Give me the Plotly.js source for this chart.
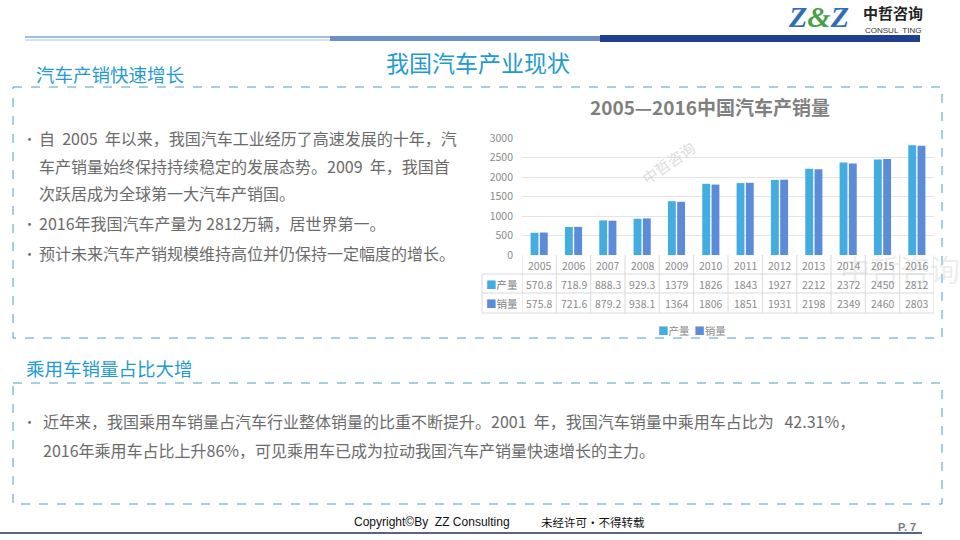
<!DOCTYPE html>
<html>
<head>
<meta charset="utf-8">
<script src="https://cdn.plot.ly/plotly-3.0.1.min.js"></script>
<style>html,body{margin:0;padding:0;background:#fff;}#chart{width:960px;height:540px;}</style>
</head>
<body>
<div id="chart"></div>
<script>
// ---- data ----
const years = ['2005','2006','2007','2008','2009','2010','2011','2012','2013','2014','2015','2016'];
const production = [570.8, 718.9, 888.3, 929.3, 1379, 1826, 1843, 1927, 2212, 2372, 2450, 2812];
const sales = [575.8, 721.6, 879.2, 938.1, 1364, 1806, 1851, 1931, 2198, 2349, 2460, 2803];
const productionLabels = ['570.8','718.9','888.3','929.3','1379','1826','1843','1927','2212','2372','2450','2812'];
const salesLabels = ['575.8','721.6','879.2','938.1','1364','1806','1851','1931','2198','2349','2460','2803'];
const seriesNames = ['产量', '销量'];
const chartTitle = '2005—2016中国汽车产销量';
const pageTitle = '我国汽车产业现状';
const section1Title = '汽车产销快速增长';
const section2Title = '乘用车销量占比大增';
const bullets1 = [
  ['自  2005  年以来，我国汽车工业经历了高速发展的十年，汽', true],
  ['车产销量始终保持持续稳定的发展态势。2009  年，我国首', false],
  ['次跃居成为全球第一大汽车产销国。', false],
  ['2016年我国汽车产量为 2812万辆，居世界第一。', true],
  ['预计未来汽车产销规模维持高位并仍保持一定幅度的增长。', true]
];
const bullets2 = [
  ['近年来，我国乘用车销量占汽车行业整体销量的比重不断提升。2001  年，我国汽车销量中乘用车占比为   42.31%，', true],
  ['2016年乘用车占比上升86%，可见乘用车已成为拉动我国汽车产销量快速增长的主力。', false]
];

// ---- helpers ----
const W = 960, H = 540;
const px = x => x / W;
const py = y => 1 - y / H;
const CJK = '"Noto Sans CJK SC", "Noto Sans", sans-serif';
const cLight = '#43ade2', cDark = '#5b8bd9';
const gridC = '#d9d9d9';
const textGray = '#6b6b6b';

const traces = [
  {type:'bar', name: seriesNames[0], x: years, y: production, marker:{color:cLight}, hoverinfo:'x+y', showlegend:false},
  {type:'bar', name: seriesNames[1], x: years, y: sales, marker:{color:cDark}, hoverinfo:'x+y', showlegend:false}
];

const annotations = [];
const shapes = [];
function txt(x, y, text, size, color, opts) {
  annotations.push(Object.assign({xref:'paper', yref:'paper', x: px(x), y: py(y), text: text,
    showarrow:false, xanchor:'left', yanchor:'middle',
    font:{family: CJK, size: size, color: color}}, opts || {}));
}

// header logo
txt(818, 17, '<b><i><span style="color:#2f6db5">Z</span><span style="color:#4aa047">&amp;</span><span style="color:#2f6db5">Z</span></i></b>', 30, '#2f6db5', {xanchor:'center', font:{family:'"Liberation Serif", serif', size:30, color:'#2f6db5'}});
txt(893, 12, '<b>中哲咨询</b>', 15, '#222', {xanchor:'center'});
txt(893, 30, 'CONSUL  TING', 8, '#333', {xanchor:'center', font:{family:'"Liberation Sans", Arial, sans-serif', size:8, color:'#333'}});
// header lines
shapes.push({type:'line', xref:'paper', yref:'paper', x0:px(25), x1:px(920), y0:py(37), y1:py(37), line:{color:'#7fa7d3', width:1.5}});
shapes.push({type:'line', xref:'paper', yref:'paper', x0:px(25), x1:px(330), y0:py(40), y1:py(40), line:{color:'#a9c4e4', width:1}});
shapes.push({type:'rect', xref:'paper', yref:'paper', x0:px(330), x1:px(600), y0:py(41), y1:py(36), line:{width:0}, fillcolor:'#6d8fc4'});
shapes.push({type:'rect', xref:'paper', yref:'paper', x0:px(600), x1:px(920), y0:py(42), y1:py(35), line:{width:0}, fillcolor:'#1f3f8f'});

// page title & section titles
txt(478, 62, pageTitle, 23, '#1f9bd1', {xanchor:'center'});
txt(34, 74, section1Title, 18.5, '#1f9bd1');
txt(24, 368, section2Title, 18.5, '#1f9bd1');

// dashed boxes
shapes.push({type:'rect', xref:'paper', yref:'paper', x0:px(13), x1:px(942), y0:py(87), y1:py(338), line:{color:'#4d9fbf', width:1, dash:'dash'}});
shapes.push({type:'rect', xref:'paper', yref:'paper', x0:px(13), x1:px(942), y0:py(383), y1:py(504), line:{color:'#4d9fbf', width:1, dash:'dash'}});

// bullets section 1
const b1y = [138, 166, 193, 223, 253];
bullets1.forEach((b, i) => {
  if (b[1]) txt(21, b1y[i], '•', 13, textGray);
  txt(37, b1y[i], b[0], 16, textGray);
});
// bullets section 2
const b2y = [421, 450];
bullets2.forEach((b, i) => {
  if (b[1]) txt(21, b2y[i], '•', 13, textGray);
  txt(41, b2y[i], b[0], 16, textGray);
});

// chart title
txt(710, 106, '<b>' + chartTitle + '</b>', 19, '#808080', {xanchor:'center'});

// watermarks
txt(668, 162, '中哲咨询', 15, 'rgba(190,190,190,0.55)', {xanchor:'center', textangle:-35});
txt(838, 268, '中哲咨询', 30, 'rgba(215,215,215,0.45)', {xanchor:'left'});

// chart legend (small squares, as in the reference)
txt(692, 330, '<span style="color:' + cLight + '">■</span>' + seriesNames[0] + '  <span style="color:' + cDark + '">■</span>' + seriesNames[1], 10.5, '#8a8a8a', {xanchor:'center'});

// data table (built from arrays, aligned with category axis)
const rowY = [265, 284, 303];
const rowLines = [274, 293, 313];
const tableLeft = 482;
txt(tableLeft + 2, rowY[1], '<span style="color:' + cLight + '">■</span>' + seriesNames[0], 10.5, '#808080');
txt(tableLeft + 2, rowY[2], '<span style="color:' + cDark + '">■</span>' + seriesNames[1], 10.5, '#808080');
years.forEach((yr, i) => {
  annotations.push({xref:'x', yref:'paper', x: i, y: py(rowY[0]), showarrow:false, text: yr, yanchor:'middle',
    font:{family:CJK, size:10.5, color:'#8a8a8a'}});
  annotations.push({xref:'x', yref:'paper', x: i, y: py(rowY[1]), showarrow:false, text: productionLabels[i], yanchor:'middle',
    font:{family:CJK, size:10.5, color:'#8a8a8a'}});
  annotations.push({xref:'x', yref:'paper', x: i, y: py(rowY[2]), showarrow:false, text: salesLabels[i], yanchor:'middle',
    font:{family:CJK, size:10.5, color:'#8a8a8a'}});
});
for (let k = 0; k <= years.length; k++) {
  shapes.push({type:'line', xref:'x', yref:'paper', x0: k - 0.5, x1: k - 0.5, y0: py(255), y1: py(313), line:{color:gridC, width:1}});
}
shapes.push({type:'line', xref:'paper', yref:'paper', x0: px(tableLeft), x1: px(tableLeft), y0: py(274), y1: py(313), line:{color:gridC, width:1}});
rowLines.forEach(yl => {
  shapes.push({type:'line', xref:'paper', yref:'paper', x0: px(tableLeft), x1: px(934), y0: py(yl), y1: py(yl), line:{color:gridC, width:1}});
});

// footer
txt(352, 522, 'Copyright©By  ZZ Consulting', 12, '#111', {font:{family:'"Liberation Sans", Arial, sans-serif', size:12, color:'#111'}});
txt(539, 522, '未经许可·不得转载', 11.5, '#111');
txt(918, 527, '<b>P. 7</b>', 11, '#7a7a7a', {xanchor:'right', font:{family:'"Liberation Sans", Arial, sans-serif', size:11, color:'#7a7a7a'}});
shapes.push({type:'line', xref:'paper', yref:'paper', x0: 0, x1: px(922), y0: py(533), y1: py(533), line:{color:'#1f2f5f', width:1.5}});

const layout = {
  width: W, height: H,
  margin:{l:0, r:0, t:0, b:0},
  paper_bgcolor:'#ffffff', plot_bgcolor:'#ffffff',
  showlegend:false,
  barmode:'group', bargap:0.46, bargroupgap:0.15,
  xaxis:{type:'category', domain:[px(522), px(934)], range:[-0.5, 11.5], showticklabels:false, ticks:'',
    showgrid:false, zeroline:false, showline:false, fixedrange:true},
  yaxis:{domain:[py(255), py(138)], range:[0, 3000], dtick:500, gridcolor:'#e4e4e4', gridwidth:1, zeroline:false,
    showline:false, ticks:'', tickfont:{family:CJK, size:10.5, color:'#8a8a8a'}, ticklabelstandoff:8, fixedrange:true},
  annotations: annotations,
  shapes: shapes,
  font:{family:CJK}
};

Plotly.newPlot('chart', traces, layout, {displayModeBar:false, staticPlot:true});
</script>
</body>
</html>
